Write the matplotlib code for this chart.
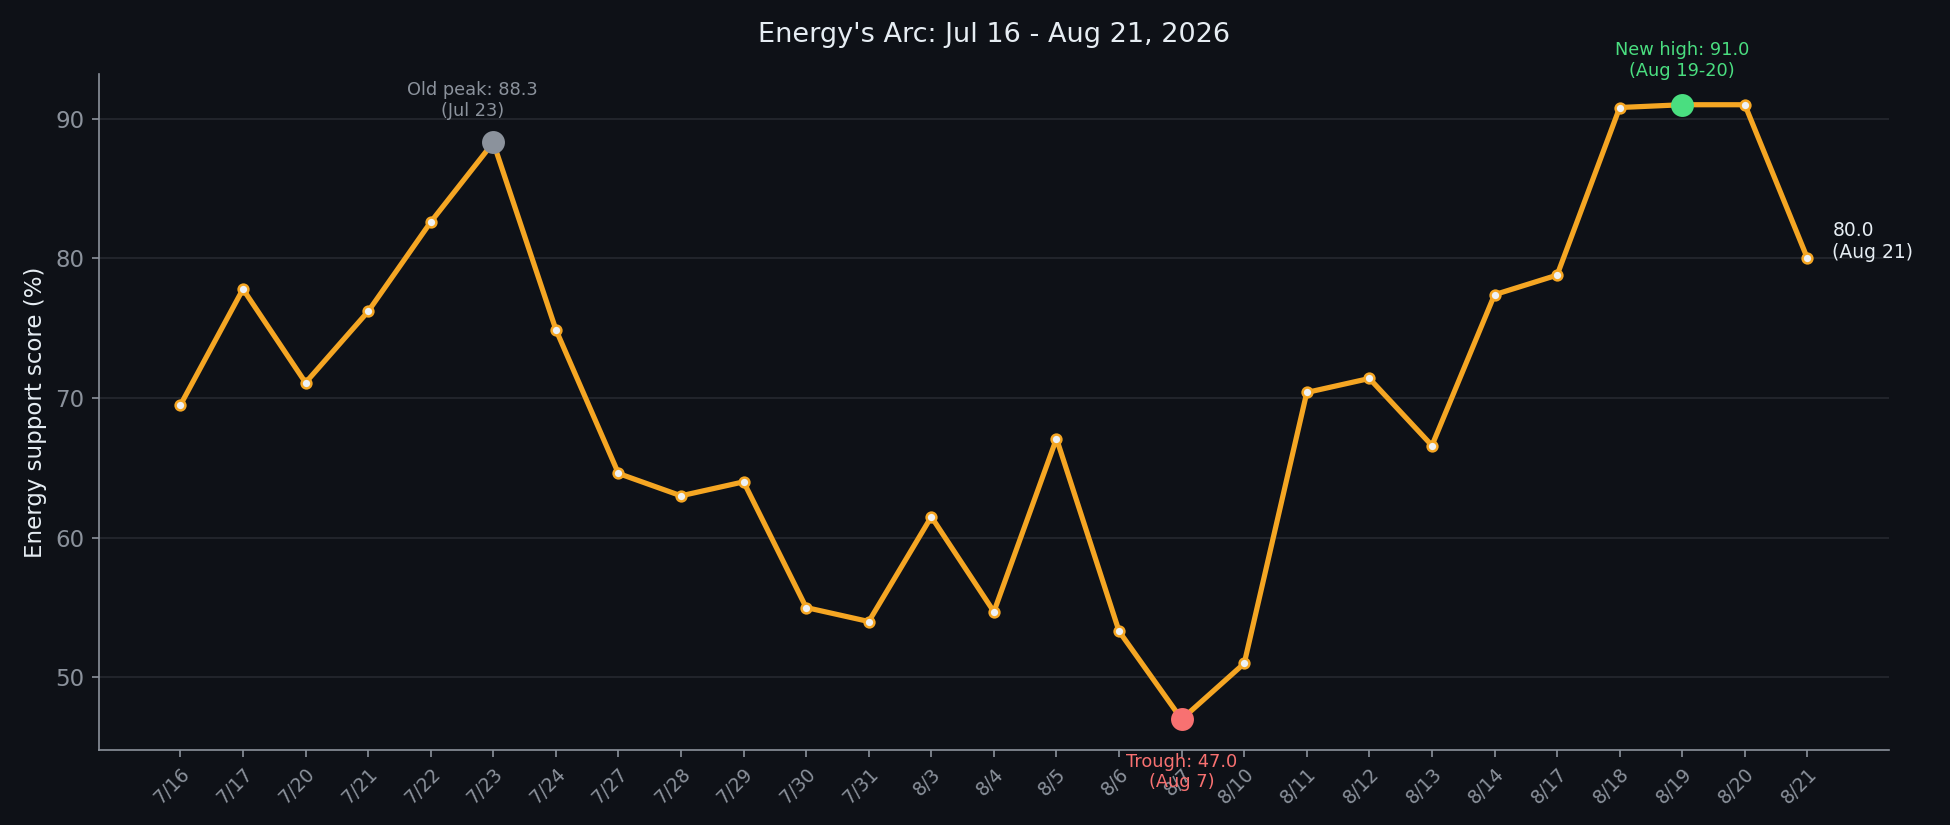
import matplotlib
matplotlib.use("Agg")
import matplotlib.pyplot as plt
import numpy as np

# data
dates = ['7/16', '7/17', '7/20', '7/21', '7/22', '7/23', '7/24', '7/27', '7/28',
         '7/29', '7/30', '7/31', '8/3', '8/4', '8/5', '8/6', '8/7', '8/10',
         '8/11', '8/12', '8/13', '8/14', '8/17', '8/18', '8/19', '8/20', '8/21']
scores = [69.5, 77.8, 71.1, 76.2, 82.6, 88.3, 74.9, 64.6, 63.0,
          64.0, 55.0, 54.0, 61.5, 54.7, 67.1, 53.3, 47.0, 51.0,
          70.4, 71.4, 66.6, 77.4, 78.8, 90.8, 91.0, 91.0, 80.0]

old_peak_idx = 5
trough_idx = 16
new_high_idx = 24
last_idx = 26

bg = '#0e1117'
orange = '#f5a623'
muted = '#8b929c'
green = '#4ade80'
red = '#f87171'
text_col = '#e6edf3'

fig, ax = plt.subplots(figsize=(13, 5.5), dpi=150)
fig.patch.set_facecolor(bg)
ax.set_facecolor(bg)

x = np.arange(len(dates))
ax.plot(x, scores, color=orange, linewidth=2.5, zorder=2)
ax.scatter(x, scores, s=22, facecolor='#eef1f5', edgecolor=orange, linewidth=1.2, zorder=3)

# highlight points
ax.scatter(x[old_peak_idx], scores[old_peak_idx], s=100, color=muted, zorder=4)
ax.scatter(x[trough_idx], scores[trough_idx], s=100, color=red, zorder=4)
ax.scatter(x[new_high_idx], scores[new_high_idx], s=100, color=green, zorder=4)

ax.annotate(f'Old peak: {scores[old_peak_idx]:.1f}\n(Jul 23)',
            (x[old_peak_idx], scores[old_peak_idx]), xytext=(-10, 11),
            textcoords='offset points', ha='center', va='bottom',
            color=muted, fontsize=8.5)
ax.annotate(f'New high: {scores[new_high_idx]:.1f}\n(Aug 19-20)',
            (x[new_high_idx], scores[new_high_idx]), xytext=(0, 12),
            textcoords='offset points', ha='center', va='bottom',
            color=green, fontsize=8.5)
ax.annotate(f'Trough: {scores[trough_idx]:.1f}\n(Aug 7)',
            (x[trough_idx], scores[trough_idx]), xytext=(0, -16),
            textcoords='offset points', ha='center', va='top',
            color=red, fontsize=8.5)
ax.annotate(f'{scores[last_idx]:.1f}\n(Aug 21)',
            (x[last_idx], scores[last_idx]), xytext=(12, 8),
            textcoords='offset points', ha='left', va='center',
            color=text_col, fontsize=9)

ax.set_xticks(x)
ax.set_xticklabels(dates, rotation=45, ha='right', rotation_mode='anchor', fontsize=9, color=muted)
ax.tick_params(axis='y', labelsize=11, colors=muted)
ax.tick_params(axis='x', colors=muted)
ax.set_yticks([50, 60, 70, 80, 90])

ax.set_ylabel('Energy support score (%)', color=text_col, fontsize=11)
ax.set_title("Energy's Arc: Jul 16 - Aug 21, 2026", color=text_col, fontsize=13, pad=15.5)

ax.grid(axis='y', color='#252830', linewidth=0.8)
ax.set_axisbelow(True)
for side in ['top', 'right']:
    ax.spines[side].set_visible(False)
for side in ['left', 'bottom']:
    ax.spines[side].set_color(muted)

fig.subplots_adjust(left=0.0508, right=0.9686, top=0.9103, bottom=0.0909)
plt.savefig('out.png', facecolor=bg)
